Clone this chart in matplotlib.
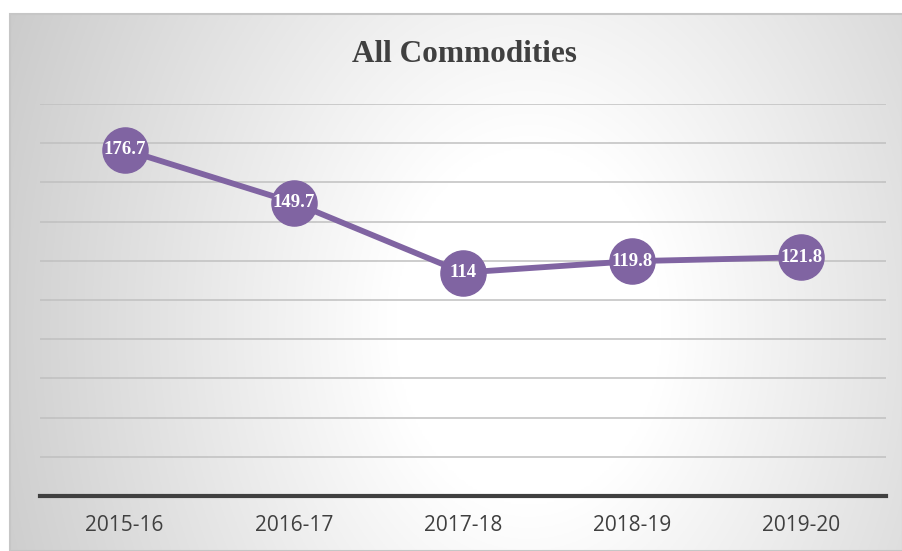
import matplotlib
matplotlib.use('Agg')
import matplotlib.pyplot as plt
import numpy as np
from matplotlib.patches import Rectangle

years = ['2015-16', '2016-17', '2017-18', '2018-19', '2019-20']
values = [176.7, 149.7, 114, 119.8, 121.8]
labels = ['176.7', '149.7', '114', '119.8', '121.8']

purple = '#8064A2'
W, H = 903, 551

fig = plt.figure(figsize=(W / 100, H / 100), dpi=100)
fig.patch.set_facecolor('white')

# background panel with radial gradient (white centre, grey edges)
x0, y0 = 10, 14
bg = fig.add_axes([x0 / W, 0, (W - x0) / W, (H - y0) / H])
bg.set_axis_off()
ny, nx = 300, 500
yy, xx = np.mgrid[0:ny, 0:nx]
cx, cy = 0.58, 0.58
dx = (xx / nx - cx) / 0.5
dy = (yy / ny - cy) / 0.5
r = np.sqrt(dx ** 2 + (0.45 * dy) ** 2)
t = np.clip((r - 0.3) / 1.2, 0, 1)
v = 1.0 - 0.25 * t
img = np.dstack([v, v, v])
bg.imshow(img, aspect='auto', extent=(0, 1, 0, 1), origin='upper')
bg.set_xlim(0, 1)
bg.set_ylim(0, 1)
bg.add_patch(Rectangle((0, 0), 1, 1, transform=bg.transAxes, fill=False,
                       edgecolor='#c6c6c6', lw=1.5, clip_on=False))

# plot area
ax = fig.add_axes([40 / W, 1 - 496 / H, (886 - 40) / W, 392 / H])
ax.patch.set_alpha(0)
x = np.arange(len(years))
ax.set_xlim(-0.5, len(years) - 0.5)
ax.set_ylim(0, 200)
for gy in range(20, 201, 20):
    ax.axhline(gy, color='#c0c0c0', lw=1.1, zorder=1)
ax.axhline(0, color='#404040', lw=3, zorder=2, clip_on=False)

ax.plot(x, values, color=purple, lw=4.2, marker='o', markersize=32.5,
        markerfacecolor=purple, markeredgecolor=purple, zorder=3)
for xi, yi, lab in zip(x, values, labels):
    ax.text(xi, yi, lab, ha='center', va='center', color='white',
            fontsize=13.5, fontweight='bold', family='Liberation Serif', zorder=4)

ax.set_xticks(x)
ax.set_xticklabels(years, fontsize=15, family='Open Sans', color='#404040')
ax.tick_params(axis='x', length=0, pad=14)
ax.set_yticks([])
for s in ax.spines.values():
    s.set_visible(False)

fig.text(464 / W, 1 - 54 / H, 'All Commodities', ha='center', va='center',
         fontsize=22.5, fontweight='bold', family='Liberation Serif', color='#404040')

plt.savefig('out.png', dpi=100)
